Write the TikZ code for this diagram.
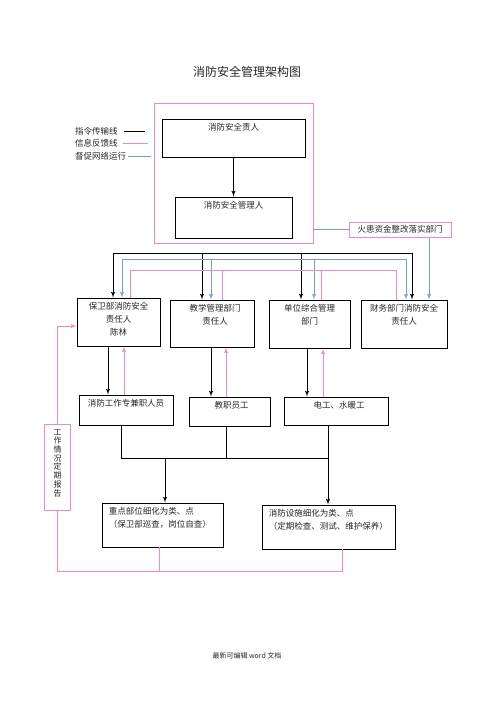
\documentclass[tikz,border=0pt]{standalone}
\usepackage{fontspec}
\setmainfont{Noto Sans CJK SC}
\usetikzlibrary{positioning, arrows}
\definecolor{fbpink}{RGB}{240,138,194}
\definecolor{supblue}{RGB}{116,158,206}
\tikzset{>=latex', node distance = 5pt}

\begin{document}
\begin{tikzpicture}[x=1pt, y=-1pt, box/.style={rectangle, draw=black, line width=0.9pt, inner sep=0pt}, pinkbox/.style={rectangle, draw=fbpink, line width=1pt, inner sep=0pt},
txt/.style={inner sep=0pt, align=center, text=black!85, font=\fontsize{8.5}{13}\selectfont},
cmd/.style={draw=black, line width=1pt}, fb/.style={draw=fbpink, line width=1pt}, sup/.style={draw=supblue, line width=1pt}]
    \useasboundingbox (0,0) rectangle (496,702);
    \node[txt, font=\fontsize{12}{14}\selectfont] (title) at (247,72) {消防安全管理架构图};

    % legend
    \node[txt, anchor=west] (lgCmd) at (75,131) {指令传输线};
    \node[txt, anchor=west] (lgFb) at (75,143.5) {信息反馈线};
    \node[txt, anchor=west] (lgSup) at (75,156) {督促网络运行};
    \draw[cmd] ([xshift=6pt]lgCmd.east) -- ++(21,0);
    \draw[fb] ([xshift=5pt]lgFb.east) -- ++(25,0);
    \draw[sup] ([xshift=2pt]lgSup.east) -- ++(23,0);

    \node[pinkbox, minimum width=159pt, minimum height=140pt] (core) at (233.5,173) {};
    \node[box, minimum width=143pt, minimum height=38pt] (chief) at (233.5,138) {};
    \node[txt, below=of chief.north] (chiefT) {消防安全责人};
    \node[box, minimum width=117pt, minimum height=41pt] (mgr) at (233.5,217.5) {};
    \node[txt, below=of mgr.north] (mgrT) {消防安全管理人};
    \node[pinkbox, txt, draw=fbpink, minimum width=102pt, minimum height=15pt] (fire) at (400,229.5) {火患资金整改落实部门};

    % departments
    \node[box, minimum width=83pt, minimum height=48pt] (guard) at (118.5,322) {};
    \node[txt, below=of guard.north] (guardT) {保卫部消防安全\\责任人\\陈林};
    \node[box, minimum width=84pt, minimum height=47pt] (teach) at (212,323.5) {};
    \node[txt, below=of teach.north, xshift=3pt] (teachT) {教学管理部门\\责任人};
    \node[box, minimum width=81pt, minimum height=48pt] (admin) at (309.5,324) {};
    \node[txt, below=of admin.north] (adminT) {单位综合管理\\部门};
    \node[box, minimum width=86pt, minimum height=48pt] (fin) at (404,324) {};
    \node[txt, below=of fin.north] (finT) {财务部门消防安全\\责任人};

    % staff
    \node[box, minimum width=94pt, minimum height=30pt] (fireStaff) at (126,410) {};
    \node[txt, below=of fireStaff.north] (fireStaffT) {消防工作专兼职人员};
    \node[box, minimum width=81pt, minimum height=29pt] (staff) at (229.5,411.5) {};
    \node[txt, below=of staff.north, xshift=2pt] (staffT) {教职员工};
    \node[box, minimum width=104pt, minimum height=28pt] (elec) at (336,411) {};
    \node[txt, below=of elec.north, xshift=3pt] (elecT) {电工、水暖工};

    % targets
    \node[box, minimum width=121pt, minimum height=44pt] (keyPart) at (162.5,525) {};
    \node[txt, align=left, below right=5pt and 7pt of keyPart.north west] (keyPartT) {重点部位细化为类、点\\（保卫部巡查，岗位自查）};
    \node[box, minimum width=133pt, minimum height=44pt] (facil) at (328.5,527) {};
    \node[txt, align=left, below right=5pt and 7pt of facil.north west] (facilT) {消防设施细化为类、点\\（定期检查、测试、维护保养）};

    \node[pinkbox, minimum width=26pt, minimum height=86pt] (report) at (57.5,467) {};
    \node[txt, font=\fontsize{8}{8.7}\selectfont] (reportT) at (57.5,463) {工\\作\\情\\况\\定\\期\\报\\告};

    \node[txt, font=\fontsize{7}{8}\selectfont] (foot) at (247,656) {最新可编辑 word 文档};

    % command lines
    \draw[cmd,->] (chief) -- (mgr);
    \draw[cmd] (113,253) -- (412,253);
    \foreach \x/\n in {113/guard, 202/teach, 301/admin, 412/fin}
        \draw[cmd,->] (\x,253) -- (\x,0 |- \n.north);
    \foreach \x/\a/\b in {108/guard/fireStaff, 211/teach/staff, 307/admin/elec}
        \draw[cmd,->] (\x,0 |- \a.south) -- (\x,0 |- \b.north);
    \draw[cmd] (121,0 |- fireStaff.south) |- (328,458);
    \draw[cmd] (226,0 |- staff.south) -- (226,458);
    \draw[cmd,->] (328,0 |- elec.south) -- (328,0 |- facil.north);
    \draw[cmd,->] (165,458) -- (165,0 |- keyPart.north);

    % supervision lines
    \draw[sup] (core.east |- fire.west) -- (fire.west);
    \draw[sup,->] (429,0 |- fire.south) -- (429,0 |- fin.north);
    \draw[sup] (122,259) -- (406,259);
    \foreach \x/\n in {122/guard, 211/teach, 314/admin, 406/fin}
        \draw[sup,->] (\x,259) -- (\x,0 |- \n.north);

    % feedback lines
    \draw[fb] (130,270) -- (396,270);
    \foreach \x/\n in {130/guard, 222/teach, 321/admin, 396/fin}
        \draw[fb] (\x,0 |- \n.north) -- (\x,270);
    \foreach \x/\a/\b in {124/guard/fireStaff, 226/teach/staff, 323/admin/elec}
        \draw[fb,->] (\x,0 |- \b.north) -- (\x,0 |- \a.south);
    \draw[fb] (159,0 |- keyPart.south) -- (159,571);
    \draw[fb] (342,0 |- facil.south) |- (report.south |- 0,571) -- (report.south);
    \draw[fb,->] (report.north) |- ([yshift=-4pt]guard.west);
\end{tikzpicture}
\end{document}
